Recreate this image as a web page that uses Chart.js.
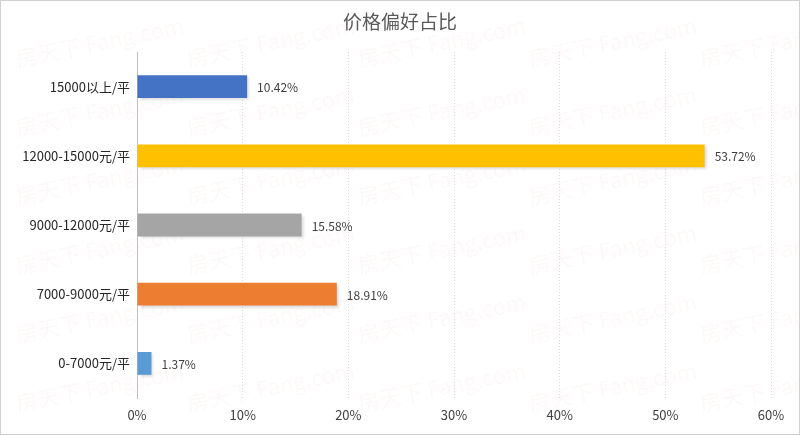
<!DOCTYPE html>
<html>
<head>
<meta charset="utf-8">
<script src="https://cdn.jsdelivr.net/npm/chart.js@4"></script>
<style>
html,body{margin:0;padding:0;background:#fff;}
#wrap{position:relative;width:800px;height:435px;box-sizing:border-box;border:1px solid #d0d0d0;background:#fff;}
canvas{display:block;}
</style>
</head>
<body>
<div id="wrap"><canvas id="c" width="798" height="433"></canvas></div>
<script>
const categories = ['15000以上/平', '12000-15000元/平', '9000-12000元/平', '7000-9000元/平', '0-7000元/平'];
const values = [10.42, 53.72, 15.58, 18.91, 1.37];
const colors = ['#4472C4', '#FFC000', '#A5A5A5', '#ED7D31', '#5B9BD5'];
const xTicks = [0, 10, 20, 30, 40, 50, 60];
const title = '价格偏好占比';
const watermark = '房天下 Fang.com';

const FONT = '"Noto Sans CJK SC", "Noto Sans", sans-serif';

const watermarkPlugin = {
  id: 'wm',
  beforeDraw(chart) {
    const ctx = chart.ctx;
    ctx.save();
    ctx.fillStyle = 'rgba(235,190,180,0.09)';
    ctx.font = '22px ' + FONT;
    ctx.textBaseline = 'middle';
    for (let r = 0; r < 7; r++) {
      for (let c = 0; c < 5; c++) {
        const x = 15 + c * 171;
        const y = 58 + r * 69;
        ctx.save();
        ctx.translate(x, y);
        ctx.rotate(-0.2);
        ctx.fillText(watermark, 0, 0);
        ctx.restore();
      }
    }
    ctx.restore();
  }
};

const titlePlugin = {
  id: 'ttl',
  afterDraw(chart) {
    const ctx = chart.ctx;
    ctx.save();
    ctx.fillStyle = '#595959';
    ctx.font = '19px ' + FONT;
    ctx.textAlign = 'center';
    ctx.textBaseline = 'middle';
    ctx.fillText(title, 399, 21);
    ctx.restore();
  }
};

const shadowPlugin = {
  id: 'shadow',
  beforeDatasetsDraw(chart) {
    const ctx = chart.ctx;
    ctx.save();
    ctx.shadowColor = 'rgba(0,0,0,0.16)';
    ctx.shadowBlur = 3;
    ctx.shadowOffsetX = 2;
    ctx.shadowOffsetY = 2;
  },
  afterDatasetsDraw(chart) {
    chart.ctx.restore();
  }
};

const labelPlugin = {
  id: 'vlabels',
  afterDatasetsDraw(chart) {
    const ctx = chart.ctx;
    const meta = chart.getDatasetMeta(0);
    ctx.save();
    ctx.fillStyle = '#404040';
    ctx.font = '12px ' + FONT;
    ctx.textBaseline = 'middle';
    ctx.textAlign = 'left';
    meta.data.forEach((bar, i) => {
      ctx.fillText(values[i].toFixed(2) + '%', bar.x + 10, bar.y + 1);
    });
    ctx.restore();
  }
};

new Chart(document.getElementById('c'), {
  type: 'bar',
  data: {
    labels: categories,
    datasets: [{
      data: values,
      backgroundColor: colors,
      borderWidth: 0,
      barPercentage: 0.33,
      categoryPercentage: 1
    }]
  },
  options: {
    indexAxis: 'y',
    responsive: false,
    animation: false,
    devicePixelRatio: 1,
    layout: { padding: { left: 0, right: 28, top: 51, bottom: 0 } },
    plugins: {
      legend: { display: false },
      tooltip: { enabled: false },
      title: { display: false }
    },
    scales: {
      x: {
        min: 0, max: 60,
        afterBuildTicks(axis) { axis.ticks = xTicks.map(v => ({ value: v })); },
        afterFit(axis) { axis.height = 36; },
        ticks: {
          padding: 9,
          color: '#404040',
          font: { family: FONT, size: 13 },
          callback: v => v + '%'
        },
        grid: {
          drawTicks: false,
          color: ctx => ctx.index === 0 ? 'rgba(0,0,0,0)' : '#dcdcdc',
          lineWidth: 1
        },
        border: { display: false, dash: [1, 2] }
      },
      y: {
        afterFit(axis) { axis.width = 136; },
        ticks: {
          padding: 7,
          color: '#262626',
          font: { family: FONT, size: 13 }
        },
        grid: { display: false, drawTicks: false },
        border: { display: true, color: '#bfbfbf', width: 1 }
      }
    }
  },
  plugins: [watermarkPlugin, shadowPlugin, labelPlugin, titlePlugin]
});
</script>
</body>
</html>
